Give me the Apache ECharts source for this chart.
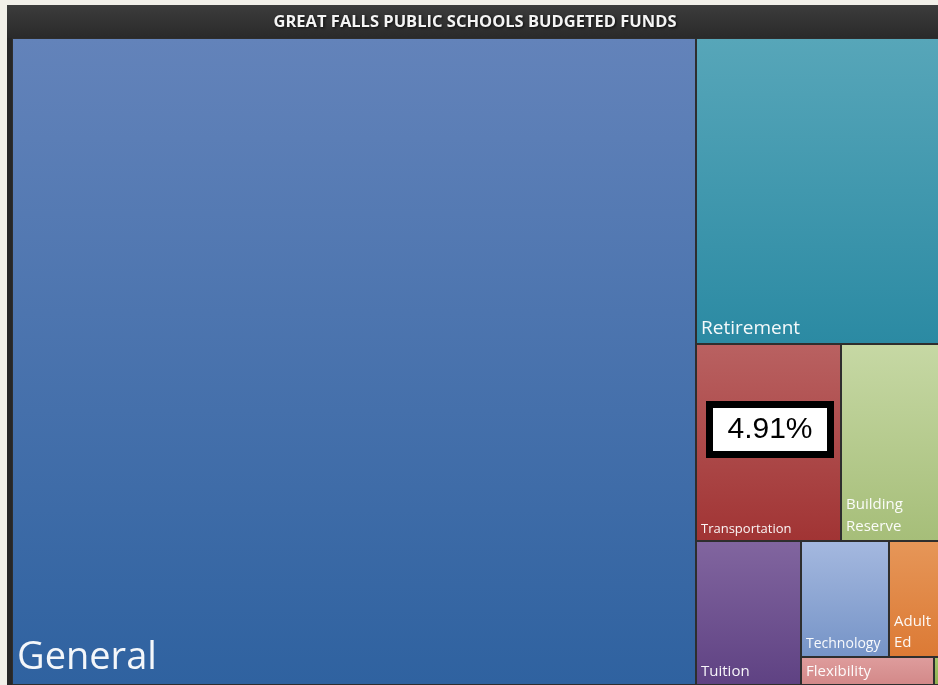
<!DOCTYPE html>
<html>
<head>
<meta charset="utf-8">
<script src="https://cdn.jsdelivr.net/npm/echarts@6/dist/echarts.min.js"></script>
<style>
  html, body { margin: 0; padding: 0; background: #f2f0e9; }
  #chart { width: 938px; height: 685px; }
</style>
</head>
<body>
<div id="chart"></div>
<script>
// ---- data ----
const categories = ['General', 'Retirement', 'Transportation', 'Building Reserve', 'Tuition', 'Technology', 'Adult Ed', 'Flexibility', 'Other'];
const values = [92137, 15545, 5947, 4060, 3148, 2125, 1232, 775, 35];
const titleText = 'GREAT FALLS PUBLIC SCHOOLS BUDGETED FUNDS';
const calloutText = '4.91%';

// ---- styles ----
const palette = {
  'General': ['#6383ba', '#2f62a0'],
  'Retirement': ['#57a6b9', '#2b8aa3'],
  'Transportation': ['#b96161', '#a13434'],
  'Building Reserve': ['#c6d8a4', '#a6be79'],
  'Tuition': ['#81659f', '#5f4283'],
  'Technology': ['#a4b8df', '#7694c7'],
  'Adult Ed': ['#e69658', '#dc7a35'],
  'Flexibility': ['#de9c9c', '#d38989'],
  'Other': ['#a4c36a', '#90b050']
};
// [fontSize, lineHeight, bottom padding]
const labelBox = {
  'General': [38, 38, 7],
  'Retirement': [19, 19, 5],
  'Transportation': [13, 13, 4],
  'Building Reserve': [15, 22, 2],
  'Tuition': [15, 15, 5],
  'Technology': [14, 14, 5],
  'Adult Ed': [15, 21, 3],
  'Flexibility': [15, 15, 5],
  'Other': [12, 12, 5]
};
const wrapped = { 'Building Reserve': 'Building\nReserve', 'Adult Ed': 'Adult\nEd' };

const total = values.reduce((a, b) => a + b, 0);
const grad = c => new echarts.graphic.LinearGradient(0, 0, 0, 1, [
  { offset: 0, color: c[0] }, { offset: 1, color: c[1] }
]);

const data = categories.map((name, i) => {
  const b = labelBox[name];
  return {
    name: name,
    value: values[i],
    itemStyle: { color: grad(palette[name]) },
    label: {
      show: values[i] / total > 0.001,
      fontSize: b[0],
      lineHeight: b[1],
      padding: [0, 0, b[2], 4]
    }
  };
});

const chart = echarts.init(document.getElementById('chart'));
chart.setOption({
  backgroundColor: '#f2f0e9',
  animation: false,
  title: {
    text: titleText,
    left: 475,
    top: 14,
    textAlign: 'center',
    padding: 0,
    textStyle: {
      color: '#f4f4f4',
      fontFamily: 'Open Sans',
      fontWeight: 'bold',
      fontSize: 16.5,
      textShadowColor: 'rgba(0,0,0,0.8)',
      textShadowBlur: 3,
      textShadowOffsetX: 1,
      textShadowOffsetY: 1
    }
  },
  graphic: [
    {
      type: 'rect', z: -10, silent: true,
      shape: { x: 7, y: 5, width: 960, height: 700 },
      style: { fill: '#272727' }
    },
    {
      type: 'rect', z: -9, silent: true,
      shape: { x: 7, y: 5, width: 960, height: 33 },
      style: { fill: new echarts.graphic.LinearGradient(0, 0, 0, 1, [
        { offset: 0, color: '#3c3c3c' }, { offset: 1, color: '#2a2a2a' }
      ]) }
    },
    {
      type: 'group', z: 100, silent: true,
      children: [
        {
          type: 'rect', z: 100,
          shape: { x: 709.5, y: 404.5, width: 121, height: 50 },
          style: { fill: '#ffffff', stroke: '#000000', lineWidth: 7 }
        },
        {
          type: 'text', z: 101,
          x: 770, y: 430,
          style: {
            text: calloutText, fill: '#000', font: '30px "Liberation Sans", Arial, sans-serif',
            align: 'center', verticalAlign: 'middle'
          }
        }
      ]
    }
  ],
  series: [{
    type: 'treemap',
    left: 12, top: 38, right: -2, bottom: 0,
    squareRatio: 1.3,
    roam: false,
    nodeClick: false,
    breadcrumb: { show: false },
    sort: 'desc',
    visibleMin: 0,
    silent: true,
    levels: [
      { itemStyle: { borderWidth: 0, gapWidth: 0 } },
      { itemStyle: { borderWidth: 1, borderColor: '#2e2e2e', gapWidth: 0 } }
    ],
    label: {
      show: true,
      position: 'insideBottomLeft',
      color: 'rgba(255,255,255,0.95)',
      fontFamily: 'Open Sans',
      overflow: 'none',
      formatter: p => wrapped[p.name] || p.name
    },
    data: data
  }]
});
</script>
</body>
</html>
